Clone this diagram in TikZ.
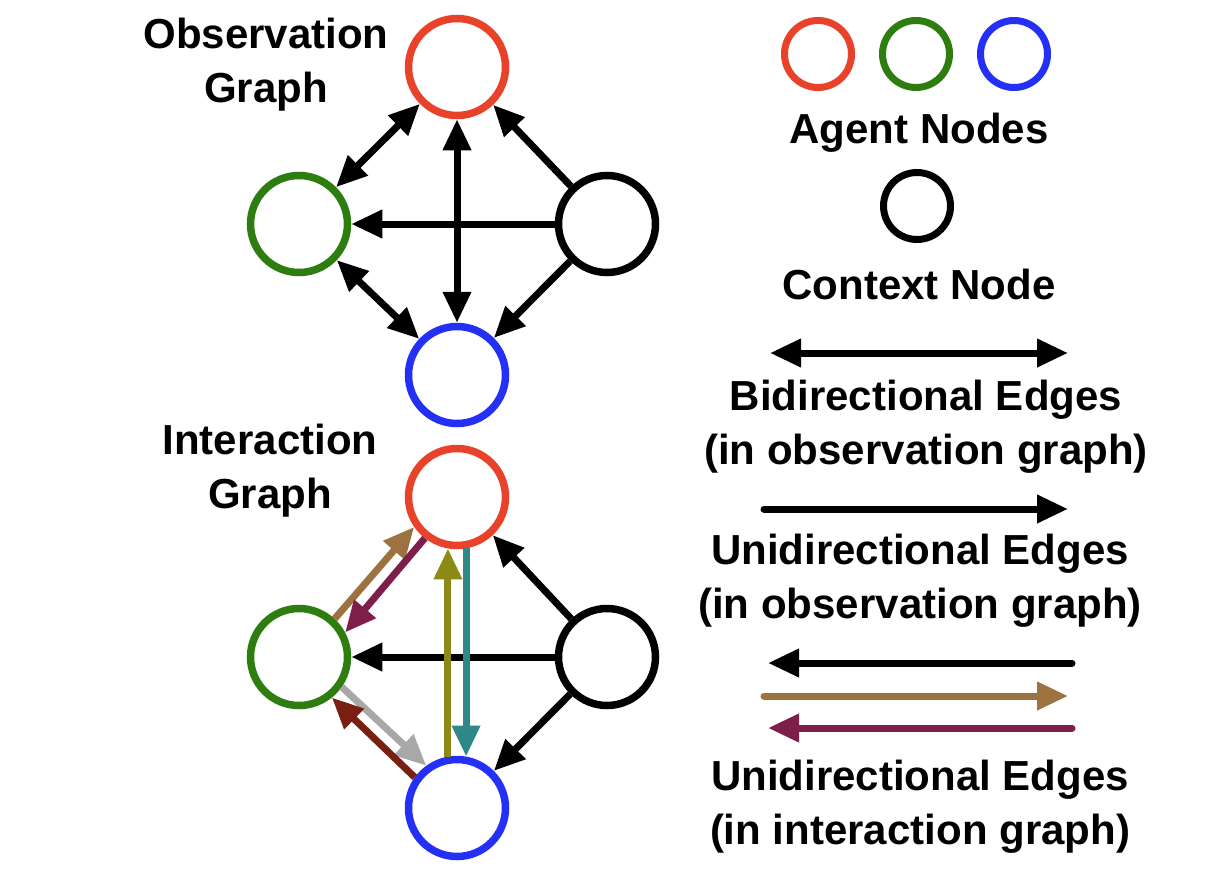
\documentclass[tikz,border=0pt]{standalone}
\usepackage{fontspec}
\setmainfont{Liberation Sans}
\usetikzlibrary{arrows.meta}
\definecolor{cred}{HTML}{E8432A}
\definecolor{cgreen}{HTML}{2E7D10}
\definecolor{cblue}{HTML}{2430F5}
\definecolor{cbrown}{HTML}{9C7340}
\definecolor{cpurple}{HTML}{7E1F4B}
\definecolor{colive}{HTML}{8A8A14}
\definecolor{cteal}{HTML}{2E8888}
\definecolor{cgray}{HTML}{A8A8A8}
\definecolor{cdred}{HTML}{7A2012}
\tikzset{
  gnode/.style={circle,draw=#1,line width=7.5pt,minimum size=97pt,inner sep=0pt},
  lnode/.style={circle,draw=#1,line width=7pt,minimum size=67pt,inner sep=0pt},
  lbl/.style={font=\fontsize{42}{54}\selectfont\bfseries,align=center,inner sep=0pt},
  edge/.style={line width=7pt,draw=#1,-{Triangle[length=31pt,width=27pt]}},
  edge/.default=black,
  bedge/.style={line width=7pt,{Triangle[length=31pt,width=27pt]}-{Triangle[length=31pt,width=27pt]}},
  legarrow/.style={line width=7pt,draw=#1,line cap=round,-{Triangle[length=31pt,width=27pt]}},
  legarrow/.default=black,
}
\begin{document}
\begin{tikzpicture}[x=1pt,y=-1pt]
\useasboundingbox[fill=white] (0,0) rectangle (1220,886);
% top graph
\node[gnode=cred] (r1) at (457,67) {};
\node[gnode=cgreen] (g1) at (299,224) {};
\node[gnode=black] (c1) at (607,224) {};
\node[gnode=cblue] (b1) at (457,375) {};
\draw[bedge] (r1) -- (g1);
\draw[bedge] (r1) -- (b1);
\draw[bedge] (g1) -- (b1);
\draw[edge] (c1) -- (r1);
\draw[edge] (c1) -- (g1);
\draw[edge] (c1) -- (b1);
\node[lbl] (t1) at (266,65) {Observation\\Graph};
% bottom graph
\node[gnode=cred] (r2) at (457,497) {};
\node[gnode=cgreen] (g2) at (299,657) {};
\node[gnode=black] (c2) at (607,657) {};
\node[gnode=cblue] (b2) at (457,808) {};
\draw[edge] (c2) -- (r2);
\draw[edge] (c2) -- (g2);
\draw[edge] (c2) -- (b2);
\draw[edge=cbrown] (g2.47) -- (r2.215);
\draw[edge=cpurple] (r2.232) -- (g2.28);
\draw[edge=colive] (b2.100) -- (r2.260);
\draw[edge=cteal] (r2.280) -- (b2.80);
\draw[edge=cgray] (g2.325) -- (b2.126);
\draw[edge=cdred] (b2.144) -- (g2.309);
\node[lbl] (t2) at (270,471) {Interaction\\Graph};
% legend
\node[lnode=cred] (lr) at (818,54) {};
\node[lnode=cgreen] (lg) at (916,54) {};
\node[lnode=cblue] (lb) at (1014,54) {};
\node[lbl] (la) at (919,133) {Agent Nodes};
\node[lnode=black] (lc) at (917,206) {};
\node[lbl] (lcn) at (919,284) {Context Node};
\coordinate (a1l) at (770,353);
\coordinate (a1r) at (1068,353);
\draw[bedge] (a1l) -- (a1r);
\node[lbl] (lbd) at (926,427) {Bidirectional Edges\\(in observation graph)};
\coordinate (a2l) at (764,509);
\coordinate (a2r) at (1068,509);
\draw[legarrow] (a2l) -- (a2r);
\node[lbl] (lud) at (920,581) {Unidirectional Edges\\(in observation graph)};
\coordinate (a3l) at (768,663);
\coordinate (a3r) at (1072,663);
\draw[legarrow] (a3r) -- (a3l);
\coordinate (a4l) at (764,696);
\coordinate (a4r) at (1068,696);
\draw[legarrow=cbrown] (a4l) -- (a4r);
\coordinate (a5l) at (768,728);
\coordinate (a5r) at (1072,728);
\draw[legarrow=cpurple] (a5r) -- (a5l);
\node[lbl] (lui) at (920,807) {Unidirectional Edges\\(in interaction graph)};
\end{tikzpicture}
\end{document}
